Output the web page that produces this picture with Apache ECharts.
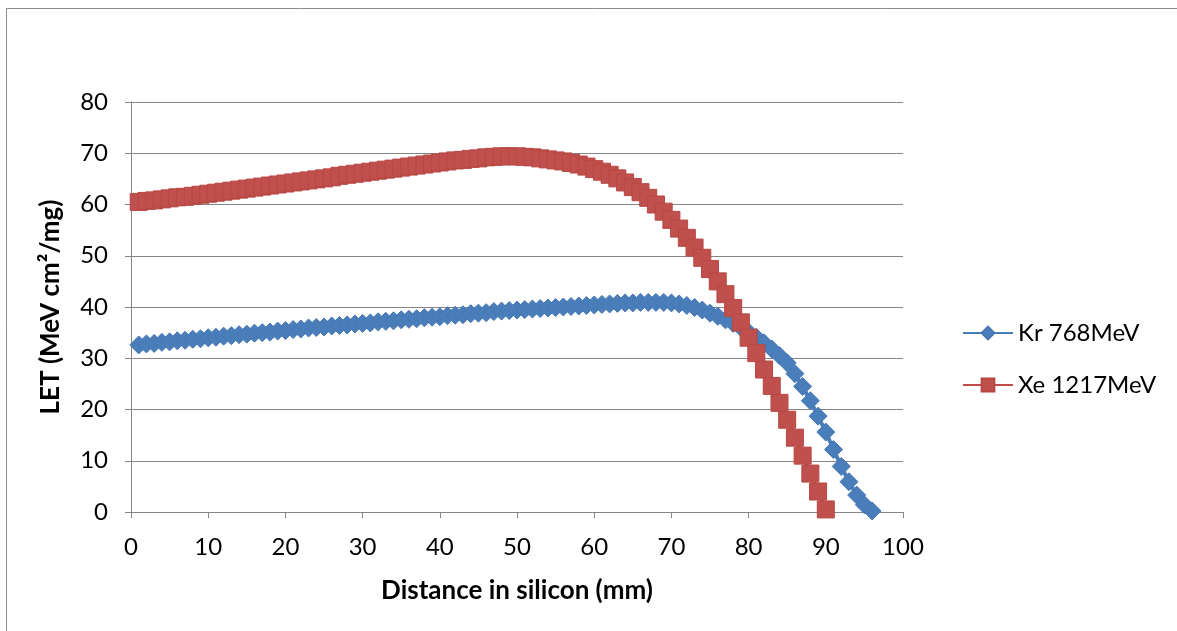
<!DOCTYPE html>
<html>
<head>
<meta charset="utf-8">
<script src="https://cdn.jsdelivr.net/npm/echarts@6/dist/echarts.min.js"></script>
<style>
  html, body { margin: 0; padding: 0; background: #fff; }
  #chart { width: 1177px; height: 631px; }
</style>
</head>
<body>
<div id="chart"></div>
<script>
// Depth in silicon (mm) for each sample, one per millimetre
const krDepth = [];
for (let d = 1; d <= 96; d++) krDepth.push(d);
const xeDepth = [];
for (let d = 1; d <= 90; d++) xeDepth.push(d);

// LET (MeV cm²/mg) of Kr 768 MeV ions along the track
const krLET = [
  32.6, 32.8, 32.9, 33.1, 33.2, 33.4, 33.5, 33.7, 33.8, 34.0,
  34.1, 34.3, 34.4, 34.6, 34.7, 34.9, 35.0, 35.1, 35.3, 35.4,
  35.6, 35.7, 35.9, 36.0, 36.1, 36.3, 36.4, 36.5, 36.7, 36.8,
  36.9, 37.1, 37.2, 37.3, 37.5, 37.6, 37.7, 37.9, 38.0, 38.1,
  38.3, 38.4, 38.5, 38.7, 38.8, 38.9, 39.1, 39.2, 39.3, 39.4,
  39.5, 39.6, 39.7, 39.8, 39.9, 40.0, 40.1, 40.2, 40.3, 40.4,
  40.5, 40.6, 40.7, 40.8, 40.8, 40.9, 40.9, 40.9, 40.9, 40.8,
  40.6, 40.3, 39.9, 39.4, 38.8, 38.2, 37.5, 36.8, 36.0, 35.1,
  34.1, 33.0, 31.8, 30.5, 29.1, 27.0, 24.5, 21.7, 18.7, 15.6,
  12.2, 8.9, 5.9, 3.3, 1.4, 0.2
];

// LET (MeV cm²/mg) of Xe 1217 MeV ions along the track
const xeLET = [
  60.5, 60.7, 60.8, 61.0, 61.2, 61.4, 61.5, 61.7, 61.9, 62.1,
  62.3, 62.5, 62.7, 62.9, 63.1, 63.3, 63.5, 63.7, 63.9, 64.1,
  64.3, 64.5, 64.7, 64.9, 65.1, 65.3, 65.6, 65.8, 66.0, 66.2,
  66.4, 66.6, 66.8, 67.0, 67.2, 67.4, 67.6, 67.8, 68.0, 68.2,
  68.4, 68.6, 68.7, 68.9, 69.0, 69.2, 69.3, 69.4, 69.4, 69.4,
  69.3, 69.2, 69.0, 68.8, 68.6, 68.4, 68.1, 67.8, 67.4, 66.9,
  66.4, 65.8, 65.1, 64.3, 63.4, 62.4, 61.3, 60.0, 58.6, 57.0,
  55.3, 53.5, 51.6, 49.6, 47.4, 45.0, 42.5, 39.8, 37.0, 34.0,
  31.0, 27.8, 24.6, 21.3, 18.0, 14.5, 11.0, 7.5, 4.0, 0.5
];

const seriesNames = ['Kr 768MeV', 'Xe 1217MeV'];
const xTicks = { min: 0, max: 100, step: 10 };
const yTicks = { min: 0, max: 80, step: 10 };

const pair = (xs, ys) => xs.map((x, i) => [x, ys[i]]);

const FONT = 'Lato, "Open Sans", sans-serif';
const GRID = '#868686';

const chart = echarts.init(document.getElementById('chart'), null, { renderer: 'canvas' });
chart.setOption({
  backgroundColor: '#ffffff',
  animation: false,
  graphic: [{
    type: 'rect',
    shape: { x: 6.5, y: 8.5, width: 1200, height: 700 },
    style: { fill: 'none', stroke: '#8c8c8c', lineWidth: 1 },
    silent: true,
    z: -10
  }],
  grid: { left: 131, right: 274, top: 102, bottom: 119, containLabel: false },
  legend: {
    orient: 'vertical',
    left: 957,
    top: 316,
    itemWidth: 50,
    itemHeight: 16,
    itemGap: 28,
    textStyle: { fontFamily: FONT, fontSize: 24, color: '#000' },
    data: seriesNames
  },
  xAxis: {
    type: 'value',
    min: xTicks.min, max: xTicks.max, interval: xTicks.step,
    name: 'Distance in silicon (mm)',
    nameLocation: 'middle',
    nameGap: 66,
    nameTextStyle: { fontFamily: FONT, fontSize: 26, fontWeight: 'bold', color: '#000' },
    axisLine: { show: true, lineStyle: { color: GRID, width: 1 } },
    axisTick: { show: true, length: 6, lineStyle: { color: GRID } },
    axisLabel: { fontFamily: FONT, fontSize: 24, color: '#000', margin: 23 },
    splitLine: { show: false }
  },
  yAxis: {
    type: 'value',
    min: yTicks.min, max: yTicks.max, interval: yTicks.step,
    name: 'LET (MeV cm²/mg)',
    nameLocation: 'middle',
    nameGap: 67,
    nameTextStyle: { fontFamily: FONT, fontSize: 26, fontWeight: 'bold', color: '#000' },
    axisLine: { show: true, lineStyle: { color: GRID, width: 1 } },
    axisTick: { show: true, length: 6, lineStyle: { color: GRID } },
    axisLabel: { fontFamily: FONT, fontSize: 24, color: '#000', margin: 23 },
    splitLine: { show: true, lineStyle: { color: GRID, width: 1 } }
  },
  series: [
    {
      name: seriesNames[0],
      type: 'line',
      data: pair(krDepth, krLET),
      symbol: 'diamond',
      symbolSize: [18, 18],
      showAllSymbol: true,
      lineStyle: { color: '#4A7EBB', width: 4 },
      itemStyle: { color: '#4A7EBB', borderColor: '#4677B2', borderWidth: 1 },
      z: 2
    },
    {
      name: seriesNames[1],
      type: 'line',
      data: pair(xeDepth, xeLET),
      symbol: 'rect',
      symbolSize: 17,
      showAllSymbol: true,
      lineStyle: { color: '#BE4B48', width: 4 },
      itemStyle: { color: '#C0504D', borderColor: '#B84744', borderWidth: 1 },
      z: 3
    }
  ]
});
</script>
</body>
</html>
